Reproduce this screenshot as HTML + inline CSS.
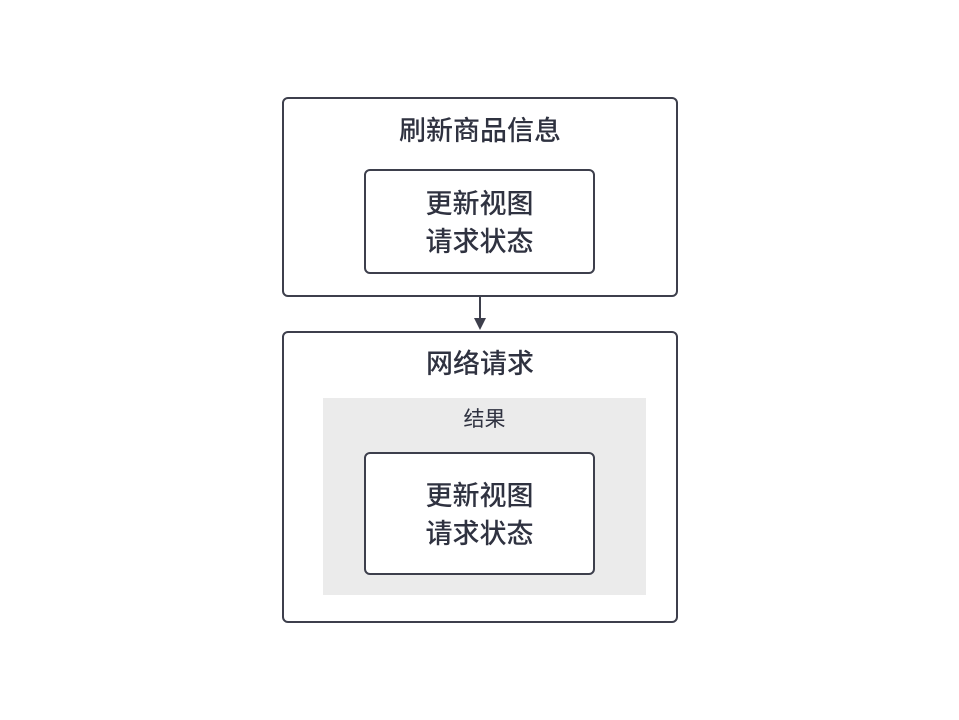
<!DOCTYPE html>
<html><head><meta charset="utf-8"><style>
body{margin:0;width:959px;height:720px;background:#fff;position:relative;overflow:hidden;font-family:"Liberation Sans","Noto Sans CJK SC",sans-serif;color:#2f3240}
.b{position:absolute;box-sizing:border-box;border:2px solid #3d3f4c;border-radius:6px;background:#fff}
.t{position:absolute;left:0;right:0;text-align:center;font-size:27px;line-height:38px;font-weight:500}
</style></head><body>
<div class="b" style="left:282px;top:97px;width:396px;height:200px"></div>
<div class="t" style="left:282px;width:396px;top:112px">刷新商品信息</div>
<div class="b" style="left:364px;top:169px;width:231px;height:105px"></div>
<div class="t" style="left:364px;width:231px;top:185px">更新视图<br>请求状态</div>
<svg style="position:absolute;left:0;top:0" width="959" height="720">
<line x1="480" y1="296" x2="480" y2="320" stroke="#3d3f4c" stroke-width="2"/>
<polygon points="474,318 486,318 480,330" fill="#3d3f4c"/>
</svg>
<div class="b" style="left:282px;top:331px;width:396px;height:292px"></div>
<div class="t" style="left:282px;width:396px;top:345px">网络请求</div>
<div style="position:absolute;left:323px;top:398px;width:323px;height:197px;background:#ebebeb"></div>
<div class="t" style="left:323px;width:323px;top:406px;font-size:21px;line-height:28px;font-weight:400">结果</div>
<div class="b" style="left:364px;top:452px;width:231px;height:123px"></div>
<div class="t" style="left:364px;width:231px;top:477px">更新视图<br>请求状态</div>
</body></html>
